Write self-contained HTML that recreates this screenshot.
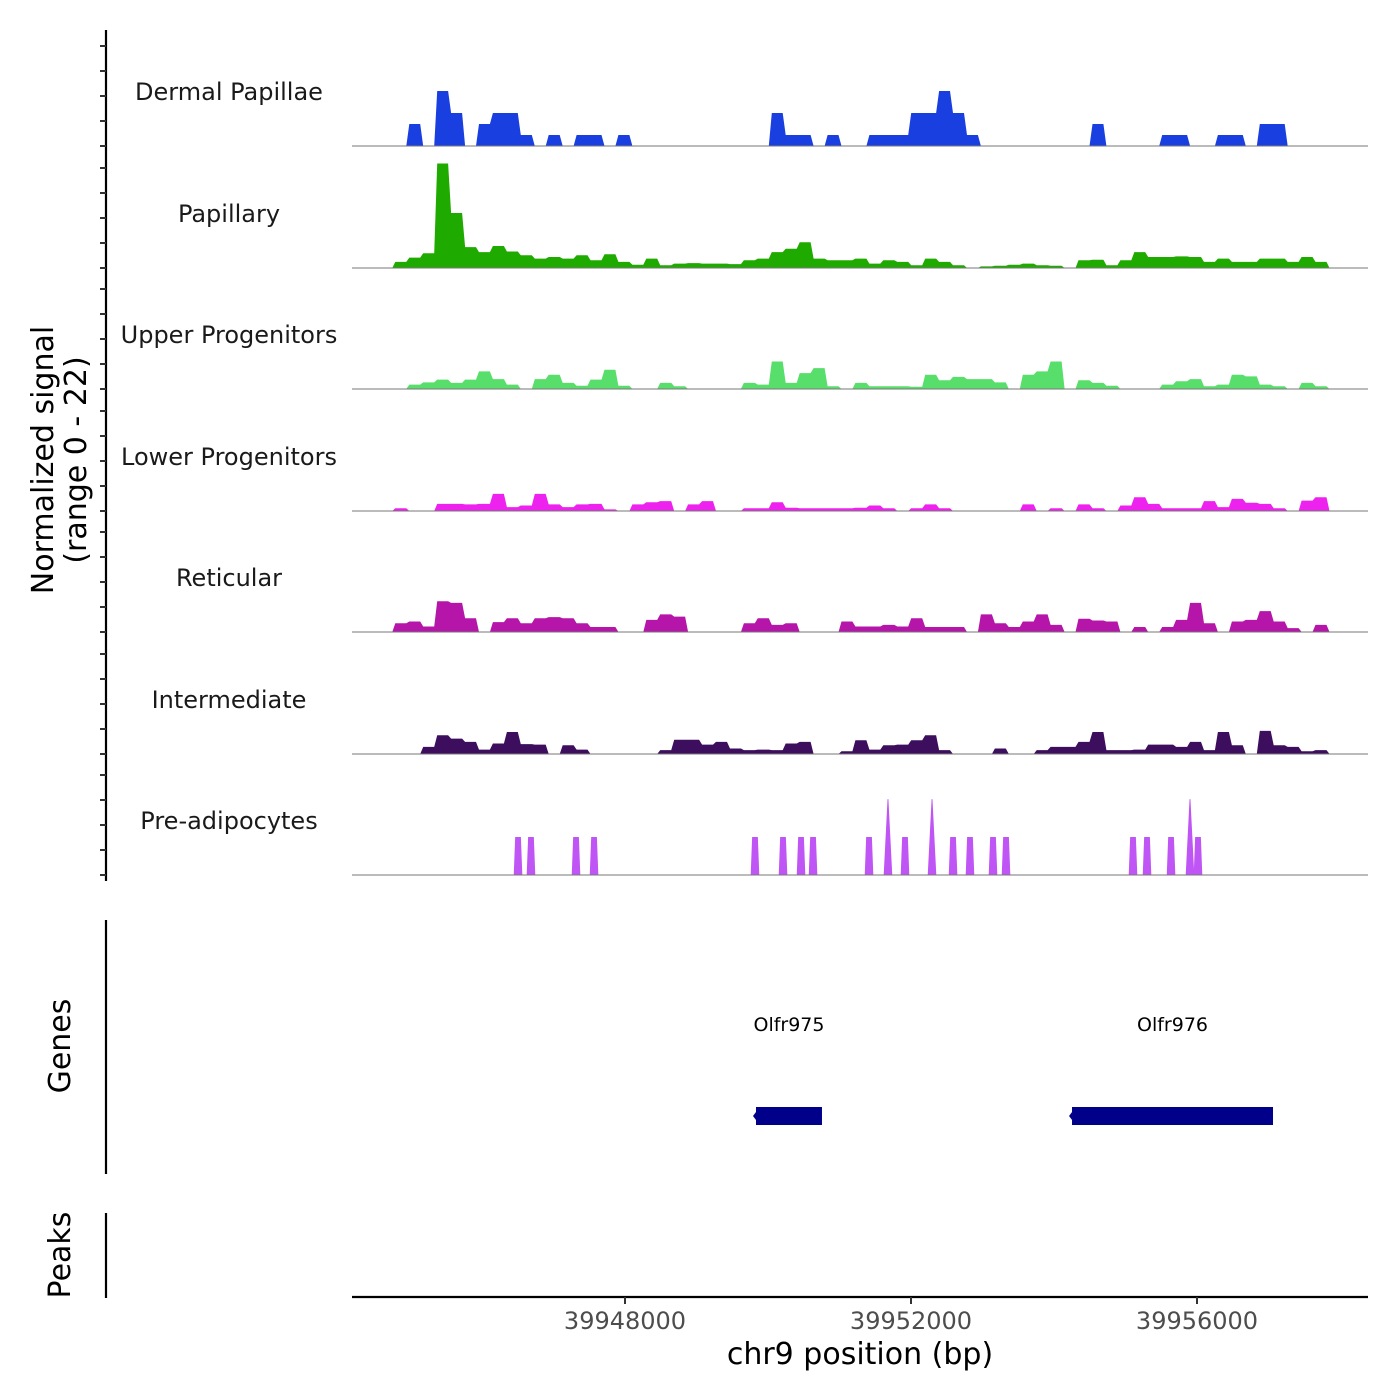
<!DOCTYPE html>
<html><head><meta charset="utf-8"><style>
html,body{margin:0;padding:0;background:#fff;}
svg{display:block;font-family:"DejaVu Sans","Liberation Sans",sans-serif;}
</style></head><body>
<svg id="chart" width="1400" height="1400" viewBox="0 0 1400 1400" xmlns="http://www.w3.org/2000/svg">
<g id="tracks"></g>
<g id="axes"></g>
</svg>
<script>
// ---- data ----
const binStart = 39944182;
const binSize = 195;
const trackNames = ["Dermal Papillae","Papillary","Upper Progenitors","Lower Progenitors","Reticular","Intermediate","Pre-adipocytes"];
const trackColors = ["#1a3fe0","#1faa00","#58de6a","#ee22ee","#b515a8","#3d0e5e","#bf55f5"];
const dermalVals = [0,0,0,0,4,0,10,6,0,4, 6,6,2,0,2,0,2,2,0,2, 0,0,0,0,0,0,0,0,0,0, 6,2,2,0,2,0,0,2,2,2, 6,6,10,6,2,0,0,0,0,0, 0,0,0,4,0,0,0,0,2,2, 0,0,2,2,0,4,4,0,0,0, 0];
const papillaryVals = [0,0,0,1.1,1.9,2.7,19,10,3.8,2.9, 4,3,2.3,1.7,2,1.7,2.3,1.4,2.5,1.1, 0.6,1.7,0.5,0.8,0.9,0.8,0.8,0.7,1.4,1.7, 2.9,3.5,4.7,1.7,1.4,1.4,1.7,0.8,1.4,1.1, 0.5,1.7,1.1,0.5,0,0.3,0.4,0.6,0.8,0.5, 0.4,0,1.4,1.5,0.5,1.4,2.9,2,2,2.1, 2,1.1,1.7,1.1,1.1,1.7,1.7,1.1,2,1.1, 0];
const upperVals = [0,0,0,0,0.8,1.2,1.7,1.1,1.7,3.2, 1.8,0.8,0,1.8,2.6,1.1,0.6,1.7,3.5,0.6, 0,0,1.1,0.5,0,0,0,0,1.1,0.8, 5,1.1,2.9,3.8,0.5,0,1.1,0.5,0.5,0.5, 0.4,2.6,1.6,2.2,1.8,1.8,1.2,0,2.6,3.2, 5,0,1.6,1.1,0.6,0,0,0,0.8,1.4, 1.8,0.5,0.8,2.6,2.3,0.8,0.5,0,1.1,0.5, 0];
const lowerVals = [0,0,0,0.5,0,0,1.3,1.3,1.2,1.3, 3.1,0.7,1,3.1,1.2,0.7,1.2,1.3,0.3,0, 1.2,1.6,1.8,0,1.2,1.8,0,0,0.5,0.5, 1.6,0.6,0.5,0.5,0.5,0.5,0.6,1,0.5,0, 0.5,1.2,0.5,0,0,0,0,0,1.2,0, 0.5,0,1.2,0.5,0,1,2.5,1.3,0.5,0.5, 0.5,1.8,0.7,2.2,1.5,1.3,0.5,0,1.9,2.5, 0];
const reticularVals = [0,0,0,1.6,1.9,1,5.6,5.3,2.5,0, 1.8,2.5,1.6,2.5,2.7,2.5,1.6,0.9,0.9,0, 0,2.2,3.2,2.8,0,0,0,0,1.6,2.5, 1.3,1.6,0,0,0,1.9,1,1,1.3,1, 2.5,0.9,0.9,0.9,0,3.2,1.6,0.9,1.9,3.2, 1.3,0,2.4,2.1,1.9,0,0.9,0,0.9,2.2, 5.3,1.6,0,1.9,2.2,3.8,1.9,0.7,0,1.3, 0];
const intermediateVals = [0,0,0,0,0,1.3,3.4,2.8,2.2,0.8, 1.9,4,1.8,1.7,0,1.6,0.8,0,0,0, 0,0,0.7,2.6,2.6,1.7,2.2,1,0.7,0.8, 0.7,1.9,2.2,0,0,0.5,2.5,0.8,1.6,1.7, 2.5,3.4,0.7,0,0,0,1,0,0,0.7, 1.3,1.3,2.2,4,0.7,0.7,0.8,1.7,1.7,1.3, 2.2,0.7,4,1.6,0,4.2,1.6,1.3,0.5,0.7, 0];
const preadipoPos = [39946504,39946685,39947315,39947567,39949818,39950210,39950462,39950630,39951413,39951678,39951916,39952294,39952588,39952825,39953147,39953329,39955105,39955301,39955637,39955902,39956014];
const preadipoVals = [6.9,6.9,6.9,6.9,6.9,6.9,6.9,6.9,6.9,13.8,6.9,13.8,6.9,6.9,6.9,6.9,6.9,6.9,6.9,13.8,6.9];
const geneNames = ["Olfr975","Olfr976"];
const geneStarts = [39949832,39954252];
const geneEnds = [39950755,39957063];
const xTicks = [39948000,39952000,39956000];
const yMax = 22;

// ---- scales ----
const plotL = 352, plotR = 1368;
function xScale(bp){ return 625 + (bp-39948000)/1000*71.5; }
const baselines = [146,268,389,511,632,754,875];
const trackH = 121;
function yScale(v, k){ return baselines[k] - v/yMax*trackH; }

const NS = "http://www.w3.org/2000/svg";
function mk(tag, attrs, parent){ const e=document.createElementNS(NS,tag); for(const a in attrs) e.setAttribute(a,attrs[a]); parent.appendChild(e); return e; }
const tracks = document.getElementById('tracks');
const axes = document.getElementById('axes');

const binned = [dermalVals,papillaryVals,upperVals,lowerVals,reticularVals,intermediateVals];
binned.forEach((vals,k)=>{
  const g = mk('g',{},tracks);
  
  
  let d = 'M' + xScale(binStart).toFixed(1) + ' ' + baselines[k];
  vals.forEach((v,i)=>{
    const x0 = xScale(binStart + i*binSize), x1 = xScale(binStart + (i+1)*binSize);
    const y = yScale(v,k).toFixed(1);
    d += ' L' + (x0+1.5).toFixed(1) + ' ' + y + ' L' + (x1-1.5).toFixed(1) + ' ' + y;
  });
  d += ' L' + xScale(binStart + vals.length*binSize).toFixed(1) + ' ' + baselines[k] + ' Z';
  const p = mk('path',{d:d,fill:trackColors[k]},g);
  
  
});
// pre-adipocytes spikes
{
  const k = 6;
  const g = mk('g',{},tracks);
  
  
  preadipoPos.forEach((pos,i)=>{
    const v = preadipoVals[i];
    const bw = 60, tw = v > 10 ? 6 : 40;
    const d = 'M'+xScale(pos-bw)+' '+baselines[k]+' L'+xScale(pos-tw)+' '+yScale(v,k)+' L'+xScale(pos+tw)+' '+yScale(v,k)+' L'+xScale(pos+bw)+' '+baselines[k]+' Z';
    const p = mk('path',{d:d,fill:trackColors[k]},g);
    
    
  });
}
// baselines and labels
trackNames.forEach((n,k)=>{
  const l = mk('line',{x1:plotL,x2:plotR,y1:baselines[k],y2:baselines[k],stroke:'#777','stroke-width':1},tracks);
  
  
  const t = mk('text',{x:229,y:baselines[k]-46,'text-anchor':'middle','font-size':24,fill:'#1a1a1a'},tracks);
  t.textContent = n;
  
  
});

// left axes
const a1 = mk('line',{x1:106,x2:106,y1:30,y2:881,stroke:'#000','stroke-width':2.2},axes);


baselines.forEach((b,k)=>{
  [0,5,10,15,20].forEach(v=>{
    const y = b - v*5;
    if (y < 32) return;
    const t = mk('line',{x1:100,x2:106,y1:y,y2:y,stroke:'#333','stroke-width':2},axes);
    
    
  });
});
const a2 = mk('line',{x1:106,x2:106,y1:920,y2:1174,stroke:'#000','stroke-width':2.2},axes);


const a3 = mk('line',{x1:106,x2:106,y1:1213,y2:1298,stroke:'#000','stroke-width':2.2},axes);



// y titles
const yt = mk('text',{transform:'translate(53,460) rotate(-90)','text-anchor':'middle','font-size':30,fill:'#000'},axes);


const ts1 = mk('tspan',{x:0,dy:0},yt); ts1.textContent='Normalized signal';
const ts2 = mk('tspan',{x:0,dy:33},yt); ts2.textContent='(range 0 - 22)';
const gt = mk('text',{transform:'translate(70,1046) rotate(-90)','text-anchor':'middle','font-size':30,fill:'#000'},axes);
gt.textContent='Genes';


const pt = mk('text',{transform:'translate(70,1255) rotate(-90)','text-anchor':'middle','font-size':30,fill:'#000'},axes);
pt.textContent='Peaks';



// genes
geneNames.forEach((n,i)=>{
  const x1 = xScale(geneStarts[i]), x2 = xScale(geneEnds[i]);
  const r = mk('rect',{x:x1,y:1107,width:x2-x1,height:18,fill:'#00008b'},axes);
  
  
  const tip = mk('path',{d:'M'+(x1-3)+' 1116 L'+x1+' 1112 L'+x1+' 1120 Z',fill:'#00008b'},axes);
  
  
  const t = mk('text',{x:(x1+x2)/2,y:1031,'text-anchor':'middle','font-size':19,fill:'#000'},axes);
  t.textContent = n;
  
  
});

// x axis
const xa = mk('line',{x1:plotL,x2:plotR,y1:1297,y2:1297,stroke:'#000','stroke-width':2.2},axes);


xTicks.forEach(v=>{
  const x = xScale(v);
  const t = mk('line',{x1:x,x2:x,y1:1297,y2:1304,stroke:'#333','stroke-width':2},axes);
  
  
  const l = mk('text',{x:x,y:1329,'text-anchor':'middle','font-size':24,fill:'#4d4d4d'},axes);
  l.textContent = v;
  
  
});
const xt = mk('text',{x:860,y:1364,'text-anchor':'middle','font-size':30,fill:'#000'},axes);
xt.textContent='chr9 position (bp)';


</script>
</body></html>
